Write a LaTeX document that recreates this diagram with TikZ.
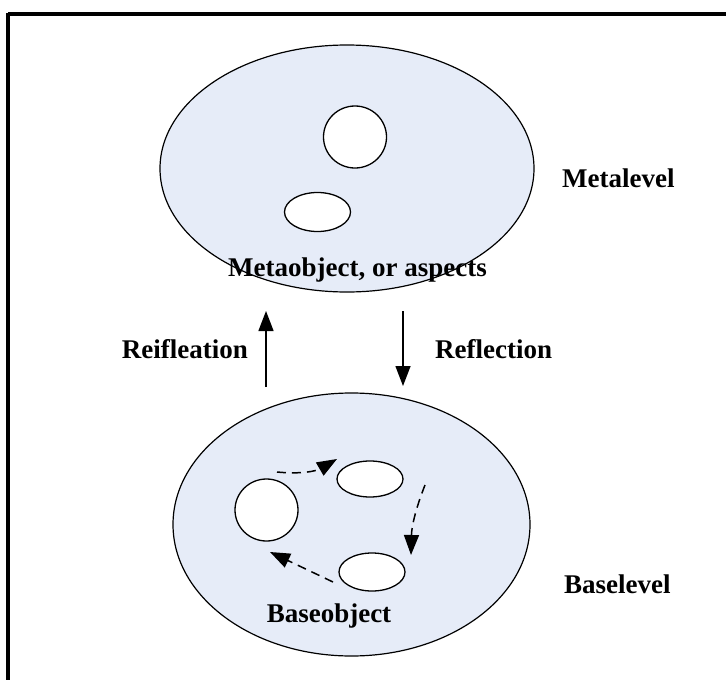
\documentclass[tikz,border=0pt]{standalone}
\usepackage{fontspec}
\setmainfont{Liberation Serif}
\usetikzlibrary{arrows.meta,shapes.geometric}
\definecolor{levelfill}{RGB}{230,236,248}
\tikzset{
  level/.style={ellipse, draw, line width=1.2pt, fill=levelfill, inner sep=0pt},
  obj/.style={ellipse, draw, line width=1.3pt, fill=white, inner sep=0pt},
  lbl/.style={font=\fontsize{27}{31}\selectfont\bfseries, inner sep=0pt},
  flow/.style={line width=1.4pt, -{Triangle[length=20pt,width=15pt]}},
  cycle/.style={line width=1.5pt, dash pattern=on 9pt off 6pt,
                -{Triangle[length=20pt,width=15pt]}},
  frameline/.style={line width=3.5pt}
}
\begin{document}
\begin{tikzpicture}[x=1pt,y=-1pt]
  \useasboundingbox (0,0) rectangle (726,680);
  % open frame: top and left border
  \draw[frameline] (8,14) -- (727,14);
  \draw[frameline] (8,12.5) -- (8,681);

  % metalevel
  \node[level, minimum width=374pt, minimum height=247pt] (meta) at (347,168.5) {};
  \node[obj, minimum width=63pt, minimum height=62pt] (m1) at (355,137) {};
  \node[obj, minimum width=66pt, minimum height=39pt] (m2) at (317.5,212) {};
  \node[lbl, anchor=base] (metaobj) at (357.5,276) {Metaobject, or aspects};
  \node[lbl, anchor=base west] (metalevel) at (562,187) {Metalevel};

  % baselevel
  \node[level, minimum width=357pt, minimum height=263pt] (base) at (351.5,524.5) {};
  \node[obj, minimum width=63pt, minimum height=62pt] (c1) at (266.5,510) {};
  \node[obj, minimum width=66pt, minimum height=36pt] (e1) at (370,479) {};
  \node[obj, minimum width=66pt, minimum height=38pt] (e2) at (372,572) {};
  \node[lbl, anchor=base] (baseobj) at (329,622) {Baseobject};
  \node[lbl, anchor=base west] (baselevel) at (564,593) {Baselevel};

  % reification and reflection
  \coordinate (reifyfrom) at (266,387);
  \coordinate (reifyto) at (266,311);
  \coordinate (reflfrom) at (403,311);
  \coordinate (reflto) at (403,386);
  \draw[flow] (reifyfrom) -- (reifyto);
  \draw[flow] (reflfrom) -- (reflto);
  \node[lbl, anchor=base east] (reify) at (248,358) {Reifleation};
  \node[lbl, anchor=base west] (refl) at (435,358) {Reflection};

  % interaction cycle among base objects
  \draw[cycle] ([shift={(10.5,-38)}]c1.center) to[bend right=18]
               ([shift={(-33,-20)}]e1.center);
  \draw[cycle] ([shift={(55,6)}]e1.center) to[bend right=10]
               ([shift={(39,-17)}]e2.center);
  \draw[cycle] ([shift={(-39,10)}]e2.center) -- ([shift={(3.5,42)}]c1.center);
\end{tikzpicture}
\end{document}
